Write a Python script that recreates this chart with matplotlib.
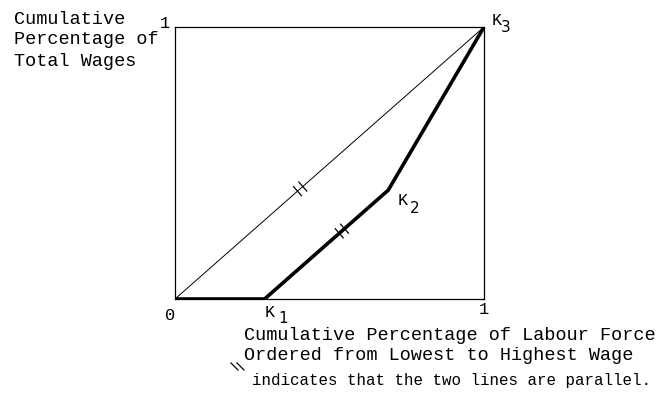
import numpy as np
import matplotlib
matplotlib.use("Agg")
import matplotlib.pyplot as plt
from matplotlib.lines import Line2D
from matplotlib.transforms import IdentityTransform

plt.rcParams['font.family'] = ['Liberation Mono', 'DejaVu Sans Mono']

# Wage distribution curve: K1 -> K2 -> K3
curve_x = [0.0, 0.29, 0.69, 1.0]
curve_y = [0.0, 0.0, 0.40, 1.0]
point_labels = ["K", "K", "K"]
point_subs = ["1", "2", "3"]
label_points = [(0.29, 0.0), (0.69, 0.40), (1.0, 1.0)]
# positions (x on each line) of the "parallel" double ticks
tick_diag_x = 0.405
tick_seg_x = 0.54

W, H = 658, 397
fig = plt.figure(figsize=(W / 100, H / 100), dpi=100)
ax = fig.add_axes([175 / W, 1 - 299 / H, 309 / W, 272 / H])
ax.set_xlim(0, 1)
ax.set_ylim(0, 1)
ax.set_xticks([])
ax.set_yticks([])
for s in ax.spines.values():
    s.set_linewidth(0.9)
    s.set_color('black')

# line of equality and the curve
ax.plot([0, 1], [0, 1], color='black', lw=0.7, solid_capstyle='butt')
ax.plot(curve_x, curve_y, color='black', lw=2.6, solid_joinstyle='miter')

fs = 13.3

def double_tick(x0, y0, slope_pts):
    # two short strokes across a line, perpendicular to it on screen
    p0 = ax.transData.transform((x0, y0))
    p1 = ax.transData.transform(slope_pts)
    d = p1 - p0
    d = d / np.hypot(*d)
    n = np.array([-d[1], d[0]])
    for off in (-3.5, 3.5):
        c = p0 + d * off
        a = c - n * 6
        b = c + n * 6
        fig.add_artist(Line2D([a[0], b[0]], [a[1], b[1]], color='black', lw=0.9,
                              transform=IdentityTransform()))

double_tick(tick_diag_x, tick_diag_x, (1.0, 1.0))
seg_y = curve_y[1] + (tick_seg_x - curve_x[1]) * (curve_y[2] - curve_y[1]) / (curve_x[2] - curve_x[1])
double_tick(tick_seg_x, seg_y, (curve_x[2], curve_y[2]))

# point labels with subscripts (offsets in points, text top-aligned)
offsets = [((0, -4.0), (10, -8.5)),
           ((7.0, -2.0), (15.5, -8.0)),
           ((5.5, 10.0), (12.0, 5.0))]
for (px, py), lab, sub, (o1, o2) in zip(label_points, point_labels, point_subs, offsets):
    ax.annotate(lab, (px, py), xytext=o1, textcoords='offset points',
                ha='left', va='top', fontsize=12, annotation_clip=False)
    ax.annotate(sub, (px, py), xytext=o2, textcoords='offset points',
                ha='left', va='top', fontsize=11, family='DejaVu Sans',
                annotation_clip=False)

# axis end values
fig.text(165 / W, 1 - 24 / H, "1", ha='center', va='center', fontsize=fs - 1)
fig.text(170 / W, 1 - 315 / H, "0", ha='center', va='center', fontsize=fs - 1)
fig.text(484 / W, 1 - 310 / H, "1", ha='center', va='center', fontsize=fs - 1)

# axis titles
for i, line in enumerate(["Cumulative", "Percentage of", "Total Wages"]):
    fig.text(14 / W, 1 - (19 + 21 * i) / H, line, ha='left', va='center', fontsize=fs)
for i, line in enumerate(["Cumulative Percentage of Labour Force",
                          "Ordered from Lowest to Highest Wage"]):
    fig.text(244 / W, 1 - (335 + 20 * i) / H, line, ha='left', va='center', fontsize=fs)

# footnote with the parallel symbol
for x0 in (231, 237):
    fig.add_artist(Line2D([x0, x0 + 7], [H - 363, H - 370], color='black', lw=0.9,
                          transform=IdentityTransform()))
fig.text(252 / W, 1 - 380 / H, "indicates that the two lines are parallel.",
         ha='left', va='center', fontsize=11.4)

fig.savefig("out.png", dpi=100, facecolor='white')
